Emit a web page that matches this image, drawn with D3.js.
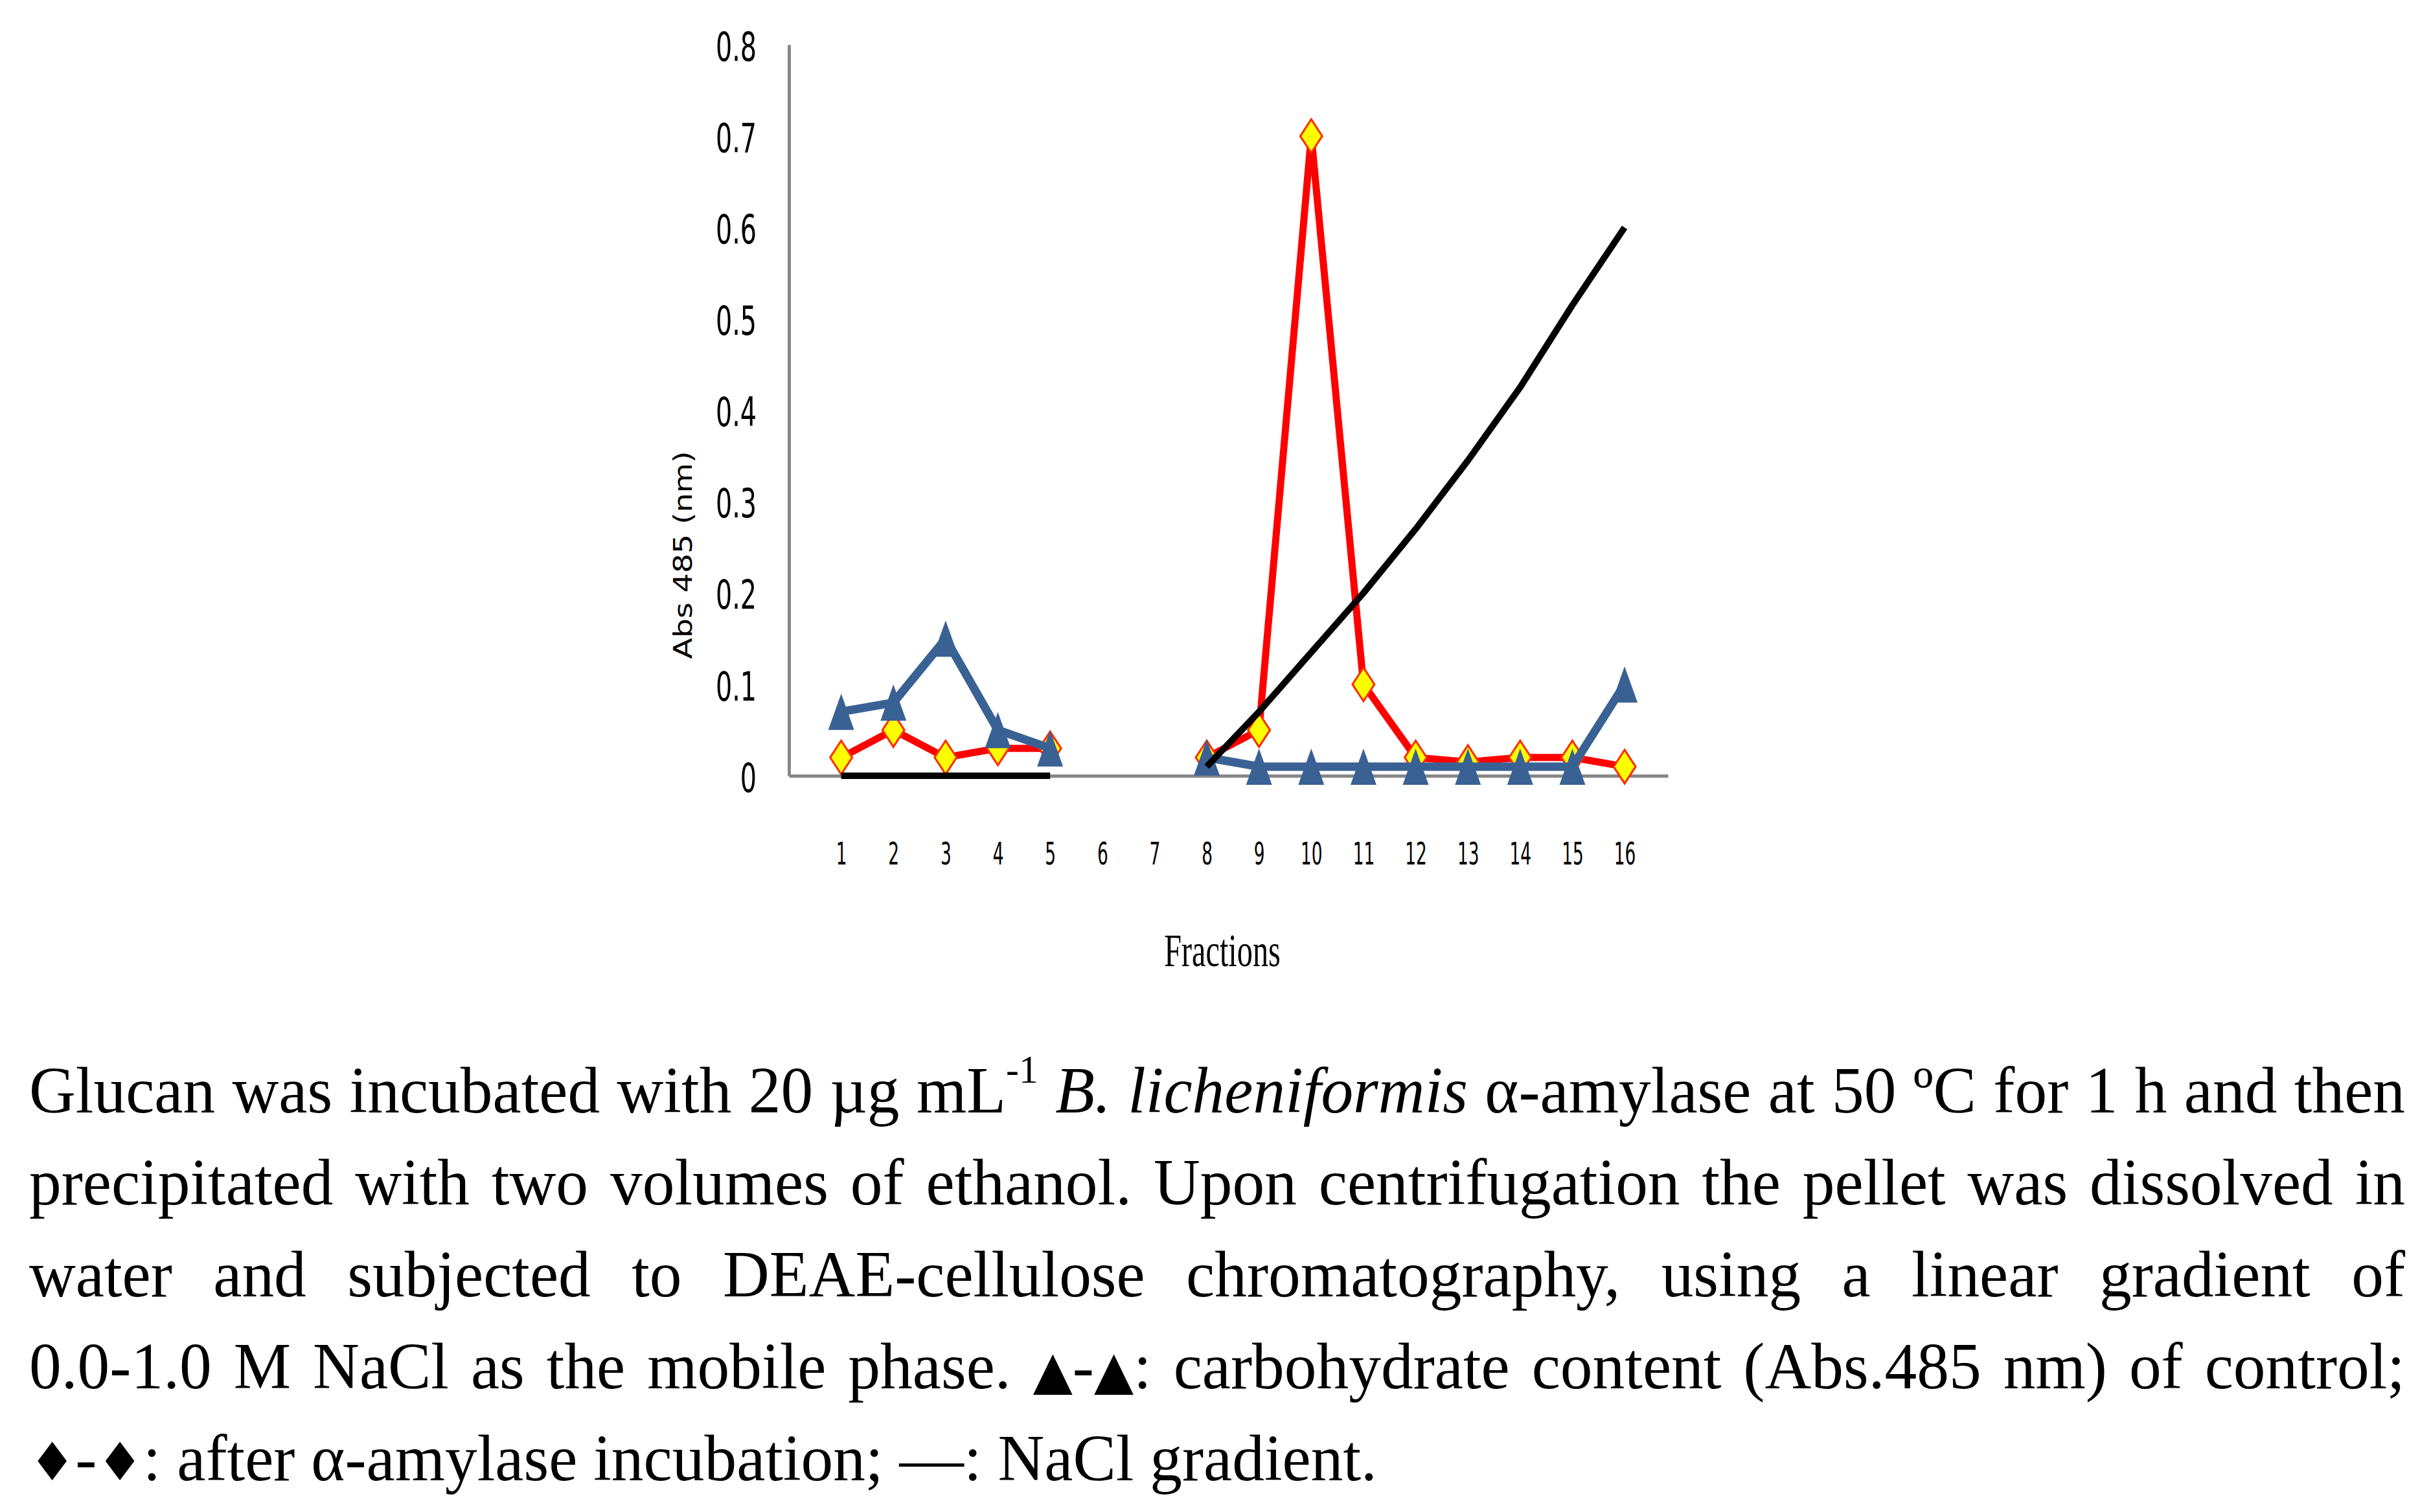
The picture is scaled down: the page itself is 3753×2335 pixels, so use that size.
<!DOCTYPE html>
<html>
<head>
<meta charset="utf-8">
<script src="https://cdn.jsdelivr.net/npm/d3@7"></script>
<style>
  body { margin: 0; background: #fff; }
  .main { position: relative; width: 3753px; height: 2335px; overflow: hidden; }
  .caption-line {
    position: absolute;
    font-family: "Liberation Serif", "Times New Roman", serif;
    font-size: 102px;
    line-height: 142px;
    color: #000;
    white-space: nowrap;
    transform-origin: 0 0;
  }
  .caption-line sup { font-size: 60%; line-height: 0; vertical-align: baseline; position: relative; top: -0.75em; }
  .caption-line .sym { font-family: "DejaVu Sans", sans-serif; font-size: 80%; }
</style>
</head>
<body>
<div class="main"></div>
<script>

// fractions collected from the column
const fractions = [1, 2, 3, 4, 5, 6, 7, 8, 9, 10, 11, 12, 13, 14, 15, 16]

// Abs 485 of control (triangles)
const control = [0.07, 0.08, 0.15, 0.05, 0.03, null, null, 0.02, 0.01, 0.01, 0.01, 0.01, 0.01, 0.01, 0.01, 0.10]

// after alpha-amylase incubation (diamonds)
const amylase = [0.02, 0.05, 0.02, 0.03, 0.03, null, null, 0.02, 0.05, 0.70, 0.10, 0.02, 0.015, 0.02, 0.02, 0.01]

// NaCl gradient (black line)
const nacl = [0, 0, 0, 0, 0, null, null, 0.01, 0.07, 0.135, 0.2, 0.27, 0.345, 0.425, 0.515, 0.60]

const yTicks = [0, 0.1, 0.2, 0.3, 0.4, 0.5, 0.6, 0.7, 0.8]

const captionLines = [
    'Glucan was incubated with 20 µg mL<sup>-1</sup> <i>B. licheniformis</i> α-amylase at 50 ºC for 1 h and then',
    'precipitated with two volumes of ethanol. Upon centrifugation the pellet was dissolved in',
    'water and subjected to DEAE-cellulose chromatography, using a linear gradient of',
    '0.0-1.0 M NaCl as the mobile phase. <span class="sym">▲</span>-<span class="sym">▲</span>: carbohydrate content (Abs.485 nm) of control;',
    '<span class="sym">♦</span>-<span class="sym">♦</span>: after α-amylase incubation; —: NaCl gradient.'
]


const chart = () => {

    ////////////
    // CANVAS //
    ////////////

    const w = 3753
    const h = 2335
    const plot = { left: 1218, right: 2575, top: 69, bottom: 1198 }
    const axisColor = "#878787"

    const svg = d3.select(".main")
        .append("svg")
        .attr("width", w)
        .attr("height", h)
        .style("position", "absolute")
        .style("left", 0)
        .style("top", 0)

    svg.append("rect")
        .attr("width", w)
        .attr("height", h)
        .attr("fill", "#fff")

    ////////////
    // SCALES //
    ////////////

    const xScale = d3.scaleLinear()
        .domain([0, 16.83])
        .range([plot.left, plot.right])

    const yScale = d3.scaleLinear()
        .domain([0, 0.8])
        .range([plot.bottom, plot.top])

    ///////////
    // AXLES //
    ///////////

    const yAxis = d3.axisLeft(yScale)
        .tickValues(yTicks)
        .tickSize(0)
        .tickFormat(d => String(d))

    const yAxisDefined = svg.append("g")
        .attr("transform", `translate(${plot.left}, 0)`)
        .call(yAxis)

    yAxisDefined.select(".domain")
        .attr("stroke", axisColor)
        .attr("stroke-width", 5)

    yAxisDefined.selectAll(".tick text")
        .attr("x", 0)
        .attr("dy", "0.39em")
        .attr("text-anchor", "end")
        .attr("transform", "translate(-50,0) scale(0.64,1)")
        .style("font-family", "'DejaVu Sans', Verdana, sans-serif")
        .style("font-size", "62px")
        .style("fill", "#000")

    const xAxis = d3.axisBottom(xScale)
        .tickValues(fractions)
        .tickSize(0)
        .tickFormat(d => String(d))

    const xAxisDefined = svg.append("g")
        .attr("transform", `translate(0, ${plot.bottom})`)
        .call(xAxis)

    xAxisDefined.select(".domain")
        .attr("stroke", axisColor)
        .attr("stroke-width", 5)

    xAxisDefined.selectAll(".tick text")
        .attr("y", 0)
        .attr("dy", 0)
        .attr("transform", "translate(0,137) scale(0.55,1)")
        .style("font-family", "'DejaVu Sans', Verdana, sans-serif")
        .style("font-size", "48px")
        .style("fill", "#000")

    svg.append("text")
        .text("Fractions")
        .attr("text-anchor", "middle")
        .attr("transform", "translate(1887,1492) scale(0.68,1)")
        .style("font-family", "'Liberation Serif', 'Times New Roman', serif")
        .style("font-size", "71px")
        .style("fill", "#000")

    svg.append("text")
        .text("Abs 485 (nm)")
        .attr("text-anchor", "middle")
        .attr("textLength", 321)
        .attr("lengthAdjust", "spacingAndGlyphs")
        .attr("transform", "translate(1068,857) scale(0.65,1) rotate(-90)")
        .style("font-family", "'DejaVu Sans', Verdana, sans-serif")
        .style("font-size", "61px")
        .style("fill", "#000")

    ////////////
    // SERIES //
    ////////////

    const toPoints = values => fractions.map((f, i) => ({ f: f, v: values[i] }))

    const line = d3.line()
        .defined(d => d.v !== null)
        .x(d => xScale(d.f))
        .y(d => yScale(d.v))

    const diamond = (mw, mh) => `M0,${-mh / 2}L${mw / 2},0L0,${mh / 2}L${-mw / 2},0Z`
    const triangle = (mw, mh) => `M0,${-mh / 2}L${mw / 2},${mh / 2}L${-mw / 2},${mh / 2}Z`

    // after amylase: red line, yellow diamonds
    svg.append("path")
        .datum(toPoints(amylase))
        .attr("d", line)
        .attr("fill", "none")
        .attr("stroke", "#ff0000")
        .attr("stroke-width", 11)
        .attr("stroke-linejoin", "round")

    svg.append("g")
        .selectAll("path")
        .data(toPoints(amylase).filter(d => d.v !== null))
        .enter()
        .append("path")
        .attr("d", diamond(34, 52))
        .attr("transform", d => `translate(${xScale(d.f)},${yScale(d.v)})`)
        .attr("fill", "#ffff00")
        .attr("stroke", "#ff2a00")
        .attr("stroke-width", 3)

    // control: blue line, blue triangles
    const blue = "#3a6194"

    svg.append("path")
        .datum(toPoints(control))
        .attr("d", line)
        .attr("fill", "none")
        .attr("stroke", blue)
        .attr("stroke-width", 13)
        .attr("stroke-linejoin", "round")

    svg.append("g")
        .selectAll("path")
        .data(toPoints(control).filter(d => d.v !== null))
        .enter()
        .append("path")
        .attr("d", triangle(40, 56))
        .attr("transform", d => `translate(${xScale(d.f)},${yScale(d.v)})`)
        .attr("fill", blue)

    // NaCl gradient: black line, no markers
    svg.append("path")
        .datum(toPoints(nacl))
        .attr("d", line)
        .attr("fill", "none")
        .attr("stroke", "#000")
        .attr("stroke-width", 10)
        .attr("stroke-linejoin", "round")

    /////////////
    // CAPTION //
    /////////////

    const textLeft = 45
    const textWidth = 3668
    const squeeze = 0.975 // the printed caption runs slightly narrower than Liberation Serif

    const lines = d3.select(".main")
        .selectAll("div.caption-line")
        .data(captionLines)
        .enter()
        .append("div")
        .attr("class", "caption-line")
        .style("left", `${textLeft}px`)
        .style("top", (d, i) => `${1613 + i * 142}px`)
        .style("transform", `scale(${squeeze}, 1)`)
        .html(d => d)

    // justify every line but the last by spreading the word gaps
    lines.each(function (d, i) {
        const el = this
        if (i === captionLines.length - 1) return
        const natural = el.getBoundingClientRect().width / squeeze
        const target = textWidth / squeeze
        const gaps = el.textContent.split(" ").length - 1
        if (natural <= target) {
            el.style.wordSpacing = `${(target - natural) / gaps}px`
        } else {
            el.style.transform = `scale(${textWidth / natural}, 1)`
        }
    })
}

chart()

</script>
</body>
</html>
